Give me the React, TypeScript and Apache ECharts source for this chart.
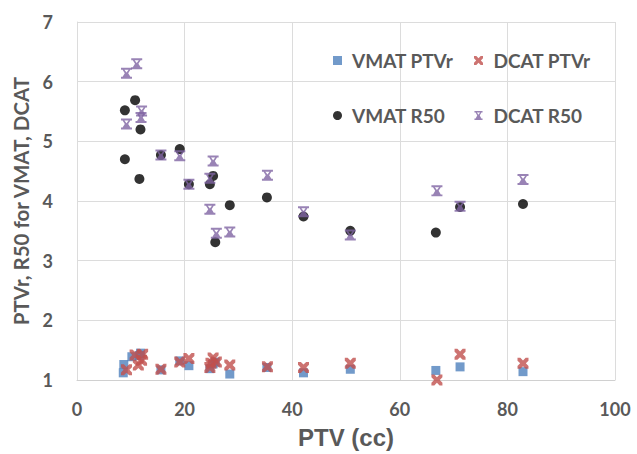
import React, { useEffect, useRef } from "react";
import * as echarts from "echarts";

const xTicks = [0, 20, 40, 60, 80, 100];
const yTicks = [1, 2, 3, 4, 5, 6, 7];

const vmatPtvr: [number, number][] = [
  [8.6, 1.12], [8.7, 1.26], [10.2, 1.39], [11.8, 1.45], [11.6, 1.41], [15.6, 1.17],
  [19.1, 1.32], [20.8, 1.24], [24.7, 1.19], [25.3, 1.27], [25.7, 1.3], [28.4, 1.1],
  [35.3, 1.21], [42.1, 1.12], [50.8, 1.18], [66.7, 1.16], [71.2, 1.22], [82.9, 1.14],
];
const dcatPtvr: [number, number][] = [
  [9.2, 1.17], [10.8, 1.42], [11.4, 1.25], [12.0, 1.33], [12.2, 1.43], [15.6, 1.18],
  [19.1, 1.3], [20.8, 1.36], [24.7, 1.21], [25.3, 1.37], [24.9, 1.28], [25.9, 1.3],
  [28.4, 1.25], [35.4, 1.22], [42.1, 1.21], [50.8, 1.28], [66.9, 1.0], [71.2, 1.43],
  [82.9, 1.28],
];
const vmatR50: [number, number][] = [
  [8.9, 5.52], [8.9, 4.7], [10.8, 5.69], [11.8, 5.2], [11.6, 4.37], [15.6, 4.77],
  [19.1, 4.87], [20.8, 4.28], [24.7, 4.28], [25.3, 4.42], [25.7, 3.31], [28.4, 3.93],
  [35.3, 4.06], [42.1, 3.74], [50.8, 3.5], [66.7, 3.47], [71.2, 3.9], [82.9, 3.95],
];
const dcatR50: [number, number][] = [
  [9.2, 6.14], [11.1, 6.3], [12.0, 5.51], [11.9, 5.4], [9.2, 5.29], [15.6, 4.77],
  [19.1, 4.76], [20.8, 4.28], [24.7, 4.38], [25.3, 4.67], [24.7, 3.86], [25.9, 3.46],
  [28.4, 3.48], [35.4, 4.43], [42.1, 3.82], [50.8, 3.43], [66.9, 4.17], [71.2, 3.91],
  [82.9, 4.36],
];

const X_PATH =
  "path://M0,0 L2.6,0 L5,2.4 L7.4,0 L10,0 L10,2.6 L7.6,5 L10,7.4 L10,10 L7.4,10 L5,7.6 L2.6,10 L0,10 L0,7.4 L2.4,5 L0,2.6 Z";
const STAR_PATH =
  "path://M0.5,0 L9.5,0 L9.5,1.8 L8.2,1.8 L6.4,5 L8.2,8.2 L9.5,8.2 L9.5,10 L0.5,10 L0.5,8.2 L1.8,8.2 L3.6,5 L1.8,1.8 L0.5,1.8 Z M3.3,1.8 L5,4.3 L6.7,1.8 Z M3.3,8.2 L5,5.7 L6.7,8.2 Z";

const FONT = "Lato, 'Open Sans', sans-serif";
const TXT = "#595959";

export default function App() {
  const ref = useRef<HTMLDivElement>(null);
  useEffect(() => {
    if (!ref.current) return;
    const chart = echarts.init(ref.current, undefined, { renderer: "svg" });
    const legendText = {
      color: TXT,
      fontSize: 19,
      fontWeight: "bold" as const,
      fontFamily: FONT,
      padding: [0, 0, 0, 5],
    };
    chart.setOption({
      animation: false,
      backgroundColor: "#fff",
      grid: { left: 77, right: 22, top: 22, bottom: 74 },
      legend: [
        {
          data: [
            { name: "VMAT PTVr", icon: "rect" },
            { name: "VMAT R50", icon: "circle" },
          ],
          orient: "vertical",
          left: 328,
          top: 46,
          itemGap: 36,
          itemWidth: 9,
          itemHeight: 9,
          textStyle: legendText,
        },
        {
          data: [
            { name: "DCAT PTVr", icon: X_PATH },
            { name: "DCAT R50", icon: STAR_PATH },
          ],
          orient: "vertical",
          left: 469,
          top: 46,
          itemGap: 36,
          itemWidth: 10,
          itemHeight: 9,
          textStyle: legendText,
        },
      ],
      xAxis: {
        type: "value",
        min: 0,
        max: 100,
        interval: 20,
        name: "PTV (cc)",
        nameLocation: "middle",
        nameGap: 45,
        nameTextStyle: {
          color: TXT,
          fontSize: 24,
          fontWeight: "bold",
          fontFamily: "'Liberation Sans', Arial, sans-serif",
        },
        axisLine: { show: true, lineStyle: { color: "#d0d0d0" } },
        axisTick: { show: false },
        axisLabel: {
          color: TXT,
          fontSize: 18,
          fontWeight: "bold",
          fontFamily: FONT,
          margin: 20,
          customValues: xTicks,
        },
        splitLine: { show: true, lineStyle: { color: "#dcdcdc" } },
      },
      yAxis: {
        type: "value",
        min: 1,
        max: 7,
        interval: 1,
        name: "PTVr, R50 for VMAT, DCAT",
        nameLocation: "middle",
        nameGap: 35,
        nameTextStyle: { color: TXT, fontSize: 20.5, fontWeight: "bold", fontFamily: FONT },
        axisLine: { show: true, lineStyle: { color: "#dcdcdc" } },
        axisTick: { show: false },
        axisLabel: {
          color: TXT,
          fontSize: 18,
          fontWeight: "bold",
          fontFamily: FONT,
          margin: 24,
          customValues: yTicks,
        },
        splitLine: { show: true, lineStyle: { color: "#dcdcdc" } },
      },
      series: [
        {
          name: "VMAT PTVr",
          type: "scatter",
          data: vmatPtvr,
          symbol: "rect",
          symbolSize: 9,
          itemStyle: { color: "#4F81BD" },
        },
        {
          name: "DCAT PTVr",
          type: "scatter",
          data: dcatPtvr,
          symbol: X_PATH,
          symbolSize: 11,
          itemStyle: { color: "#C0504D" },
        },
        {
          name: "VMAT R50",
          type: "scatter",
          data: vmatR50,
          symbol: "circle",
          symbolSize: 10,
          itemStyle: { color: "#000000" },
        },
        {
          name: "DCAT R50",
          type: "scatter",
          data: dcatR50,
          symbol: STAR_PATH,
          symbolSize: 11,
          itemStyle: { color: "#8064A2" },
        },
      ],
    });
    return () => chart.dispose();
  }, []);
  return (
    <div
      ref={ref}
      style={{ position: "absolute", left: 0, top: 0, width: 637, height: 454 }}
    />
  );
}
